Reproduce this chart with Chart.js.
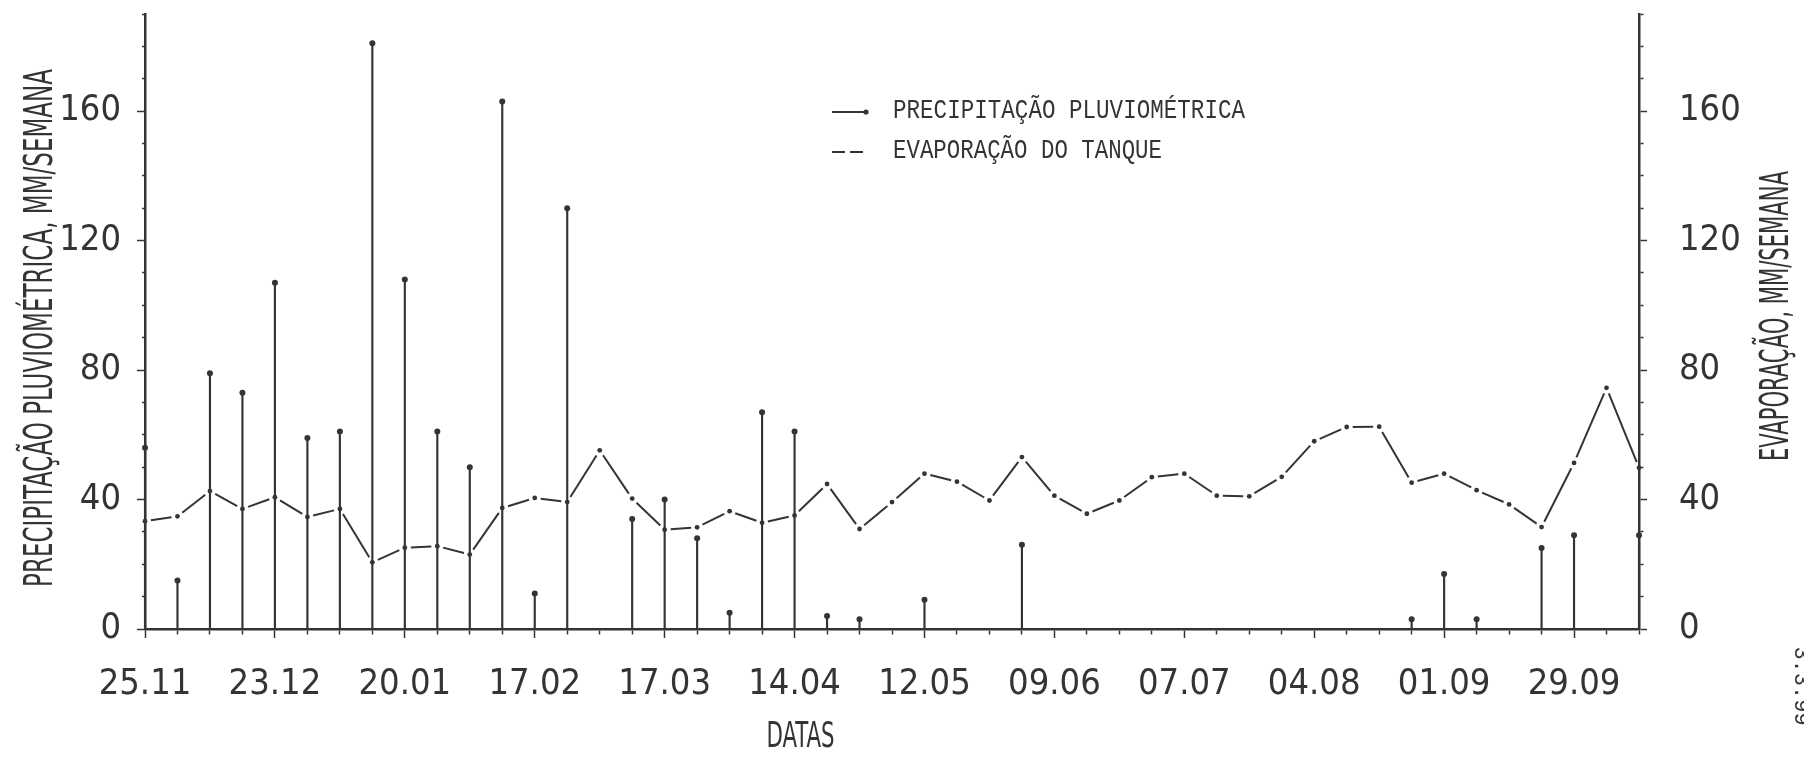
<!DOCTYPE html>
<html>
<head>
<meta charset="utf-8">
<title>Precipitação e evaporação semanais</title>
<script src="https://cdn.jsdelivr.net/npm/chart.js@4.4.1/dist/chart.umd.min.js"></script>
<style>
  html, body { margin: 0; padding: 0; background: #ffffff; }
  canvas { display: block; }
</style>
</head>
<body>
<canvas id="grafico" width="1804" height="757"></canvas>
<script>
// Semanas (datas de início)
const weekLabels = [
  '25.11', '02.12', '09.12', '16.12', '23.12', '30.12', '06.01', '13.01',
  '20.01', '27.01', '03.02', '10.02', '17.02', '24.02', '03.03', '10.03',
  '17.03', '24.03', '31.03', '07.04', '14.04', '21.04', '28.04', '05.05',
  '12.05', '19.05', '26.05', '02.06', '09.06', '16.06', '23.06', '30.06',
  '07.07', '14.07', '21.07', '28.07', '04.08', '11.08', '18.08', '25.08',
  '01.09', '08.09', '15.09', '22.09', '29.09', '06.10', '13.10'
];

// Precipitação pluviométrica, mm/semana
const precipitation = [
  56, 15, 79, 73, 107, 59, 61, 181, 108, 61, 50, 163, 11, 130,
  0, 34, 40, 28, 5, 67, 61, 4, 3,
  0, 9, 0, 0, 26,
  0, 0, 0, 0, 0, 0, 0, 0, 0, 0, 0,
  3, 17, 3, 0, 25, 29, 0, 29
];

// Evaporação do tanque, mm/semana
const evaporation = [
  33.3, 34.8, 42.6, 37.1, 40.7, 34.6, 37.1, 20.6, 25.1, 25.6,
  23.0, 37.4, 40.5, 39.2, 55.2, 40.3, 30.7, 31.4, 36.4, 32.8,
  35.1, 44.8, 30.9, 39.2, 48.0, 45.5, 39.7, 53.1, 41.2, 35.6,
  39.7, 46.9, 48.0, 41.2, 41.0, 47.0, 58.0, 62.4, 62.5, 45.2,
  48.0, 42.9, 38.5, 31.5, 51.3, 74.5, 49.8
];

// Valores rotulados nos eixos verticais
const axisTicks = [0, 40, 80, 120, 160];
const labelEvery = 4;

const INK = '#343434';
const NARROW = '"Liberation Sans Narrow", "Arial Narrow", "DejaVu Sans Condensed", "Liberation Sans", sans-serif';
const MONO = '"Liberation Mono", "DejaVu Sans Mono", monospace';

// Texto esticado/comprimido para caber num comprimento dado
function caption(ctx, text, x, y, opts) {
  ctx.save();
  ctx.font = opts.font;
  ctx.fillStyle = INK;
  ctx.textAlign = opts.align || 'center';
  ctx.textBaseline = 'middle';
  ctx.translate(x, y);
  ctx.rotate(opts.rotate || 0);
  const w = ctx.measureText(text).width;
  const sx = opts.length ? opts.length / w : 1;
  ctx.scale(sx, opts.stretch || 1);
  ctx.fillText(text, 0, 0);
  ctx.restore();
}

// Títulos dos eixos, legenda e anotação lateral
const captionsPlugin = {
  id: 'captions',
  afterDraw(chart) {
    const { ctx, scales } = chart;
    const titleFont = '39px ' + NARROW;

    caption(ctx, 'PRECIPITAÇÃO PLUVIOMÉTRICA, MM/SEMANA', 42, 328,
      { font: titleFont, rotate: -Math.PI / 2, length: 518 });
    caption(ctx, 'EVAPORAÇÃO, MM/SEMANA', 1778, 316,
      { font: titleFont, rotate: -Math.PI / 2, length: 290 });
    caption(ctx, 'DATAS', scales.x.getPixelForValue(20) + 6, 738,
      { font: '35px ' + NARROW, length: 68 });
    caption(ctx, '3.3.99', 1801, 686,
      { font: '22px ' + MONO, rotate: Math.PI / 2 });

    // Legenda
    const row1 = 112, row2 = 152;
    ctx.save();
    ctx.strokeStyle = INK;
    ctx.fillStyle = INK;
    ctx.lineWidth = 2;
    ctx.beginPath();
    ctx.moveTo(832, row1);
    ctx.lineTo(864, row1);
    ctx.stroke();
    ctx.beginPath();
    ctx.arc(866, row1, 2.6, 0, Math.PI * 2);
    ctx.fill();
    ctx.beginPath();
    ctx.moveTo(832, row2);
    ctx.lineTo(845, row2);
    ctx.moveTo(850, row2);
    ctx.lineTo(863, row2);
    ctx.stroke();
    ctx.restore();

    const legendFont = '23px ' + MONO;
    caption(ctx, 'PRECIPITAÇÃO PLUVIOMÉTRICA', 893, row1 - 1,
      { font: legendFont, align: 'left', length: 352, stretch: 1.2 });
    caption(ctx, 'EVAPORAÇÃO DO TANQUE', 893, row2 - 1,
      { font: legendFont, align: 'left', length: 269, stretch: 1.2 });
  }
};

function fixBox(width, height) {
  return (scale) => {
    if (width !== null) scale.width = width;
    if (height !== null) scale.height = height;
    scale.paddingTop = 0;
    scale.paddingBottom = 0;
    scale.paddingLeft = 0;
    scale.paddingRight = 0;
  };
}

const tickFont = { family: NARROW, size: 36 };
const isLabelled = (v) => axisTicks.includes(v);

new Chart(document.getElementById('grafico'), {
  data: {
    labels: weekLabels,
    datasets: [
      {
        type: 'bar',
        label: 'PRECIPITAÇÃO PLUVIOMÉTRICA',
        data: precipitation,
        yAxisID: 'y',
        backgroundColor: INK,
        barThickness: 1.5,
        clip: false,
        order: 3
      },
      {
        type: 'line',
        label: 'PRECIPITAÇÃO PLUVIOMÉTRICA',
        data: precipitation,
        yAxisID: 'y',
        showLine: false,
        pointRadius: (c) => (c.raw > 0 ? 3 : 0),
        pointBackgroundColor: INK,
        pointBorderWidth: 0,
        clip: false,
        order: 2
      },
      {
        type: 'line',
        label: 'EVAPORAÇÃO DO TANQUE',
        data: evaporation,
        yAxisID: 'y1',
        borderColor: INK,
        borderWidth: 2,
        tension: 0,
        pointRadius: 2.4,
        pointBackgroundColor: INK,
        pointBorderWidth: 0,
        clip: false,
        order: 1,
        segment: {
          // um traço por intervalo, com folga junto a cada ponto
          borderDash: (c) => {
            const len = Math.hypot(c.p1.x - c.p0.x, c.p1.y - c.p0.y);
            const gap = 6;
            return [0, gap, Math.max(len - 2 * gap, 0), gap];
          }
        }
      }
    ]
  },
  options: {
    responsive: false,
    animation: false,
    events: [],
    layout: { padding: { top: 14, left: 0, right: 0, bottom: 0 } },
    plugins: {
      legend: { display: false },
      tooltip: { enabled: false }
    },
    scales: {
      x: {
        type: 'category',
        offset: false,
        afterFit: fixBox(null, 128),
        border: { display: true, color: INK, width: 2.5 },
        grid: {
          display: true,
          offset: false,
          drawOnChartArea: false,
          drawTicks: true,
          tickLength: 9,
          tickWidth: 1.5,
          tickColor: INK,
          tickBorderDash: (c) => (c.index % labelEvery === 0 ? [] : [4, 40])
        },
        ticks: {
          autoSkip: false,
          maxRotation: 0,
          minRotation: 0,
          padding: 25,
          color: INK,
          font: tickFont,
          callback: (v, i) => (i % labelEvery === 0 ? weekLabels[i] : '')
        }
      },
      y: {
        position: 'left',
        min: 0,
        max: 190,
        afterFit: fixBox(145, null),
        border: { display: true, color: INK, width: 2.5 },
        grid: {
          display: true,
          drawOnChartArea: false,
          tickLength: 8,
          tickWidth: 1.5,
          tickColor: INK,
          tickBorderDash: (c) => (c.tick && isLabelled(c.tick.value) ? [] : [0, 5, 3, 40])
        },
        ticks: {
          stepSize: 10,
          autoSkip: false,
          padding: 16,
          color: INK,
          font: tickFont,
          callback: (v) => (isLabelled(v) ? String(v) : '')
        }
      },
      y1: {
        position: 'right',
        min: 0,
        max: 190,
        afterFit: fixBox(165, null),
        border: { display: true, color: INK, width: 2.5 },
        grid: {
          display: true,
          drawOnChartArea: false,
          tickLength: 8,
          tickWidth: 1.5,
          tickColor: INK,
          tickBorderDash: (c) => (c.tick && isLabelled(c.tick.value) ? [] : [3, 40])
        },
        ticks: {
          stepSize: 10,
          autoSkip: false,
          padding: 32,
          color: INK,
          font: tickFont,
          callback: (v) => (isLabelled(v) ? String(v) : '')
        }
      }
    }
  },
  plugins: [captionsPlugin]
});
</script>
</body>
</html>
